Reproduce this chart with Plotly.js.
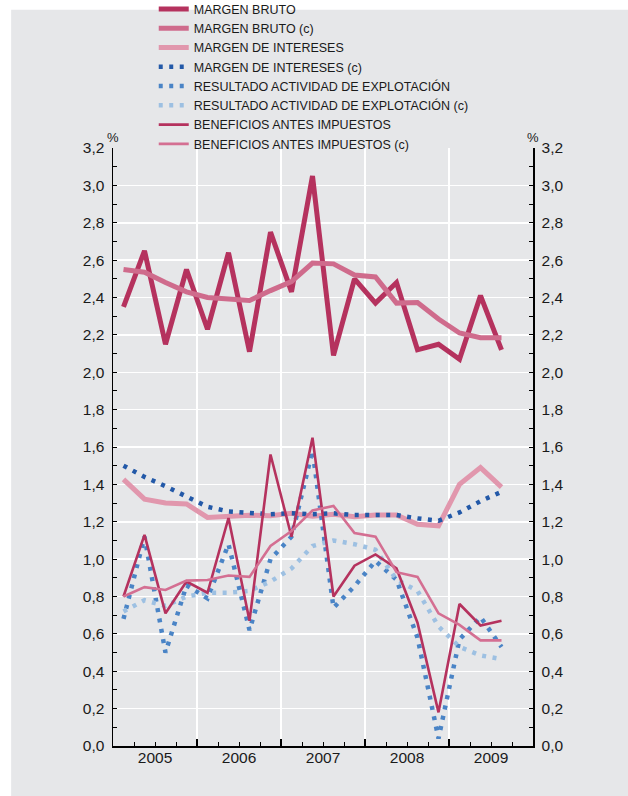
<!DOCTYPE html>
<html>
<head>
<meta charset="utf-8">
<script src="https://cdn.plot.ly/plotly-3.0.1.min.js"></script>
<style>html,body{margin:0;padding:0;background:#fff;}#chart{width:628px;height:796px;}</style>
</head>
<body>
<div id="chart"></div>
<script>
// ---- DATA ----
const years = [2005, 2006, 2007, 2008, 2009];
const yearLabels = ['2005', '2006', '2007', '2008', '2009'];
const periods = ['2005-1','2005-2','2005-3','2005-4','2006-1','2006-2','2006-3','2006-4',
                 '2007-1','2007-2','2007-3','2007-4','2008-1','2008-2','2008-3','2008-4',
                 '2009-1','2009-2','2009-3'];
const seriesNames = ['MARGEN BRUTO','MARGEN BRUTO (c)','MARGEN DE INTERESES','MARGEN DE INTERESES (c)',
  'RESULTADO ACTIVIDAD DE EXPLOTACIÓN','RESULTADO ACTIVIDAD DE EXPLOTACIÓN (c)',
  'BENEFICIOS ANTES IMPUESTOS','BENEFICIOS ANTES IMPUESTOS (c)'];
const margenBruto      = [2.35,2.65,2.15,2.55,2.23,2.64,2.11,2.75,2.43,3.05,2.09,2.50,2.37,2.48,2.12,2.15,2.07,2.41,2.12];
const margenBrutoC     = [2.55,2.535,2.48,2.43,2.40,2.393,2.384,2.437,2.485,2.584,2.58,2.52,2.51,2.37,2.373,2.285,2.21,2.185,2.185];
const margenIntereses  = [1.427,1.321,1.30,1.295,1.223,1.23,1.235,1.232,1.245,1.23,1.24,1.227,1.236,1.236,1.187,1.178,1.40,1.49,1.385];
const margenInteresesC = [1.50,1.44,1.39,1.335,1.28,1.255,1.245,1.24,1.245,1.24,1.245,1.236,1.236,1.236,1.218,1.205,1.25,1.31,1.36];
const resultado        = [0.68,1.12,0.50,0.86,0.79,1.08,0.62,1.00,1.12,1.58,0.74,0.855,0.99,0.89,0.58,0.04,0.57,0.69,0.53];
const resultadoC       = [0.72,0.78,0.75,0.80,0.82,0.82,0.83,0.88,0.95,1.07,1.10,1.08,1.05,0.89,0.83,0.64,0.53,0.485,0.465];
const beneficios       = [0.80,1.13,0.71,0.88,0.82,1.22,0.67,1.56,1.12,1.65,0.80,0.965,1.025,0.95,0.66,0.18,0.76,0.645,0.67];
const beneficiosC      = [0.80,0.85,0.835,0.885,0.888,0.912,0.905,1.07,1.15,1.26,1.285,1.14,1.12,0.93,0.905,0.71,0.648,0.565,0.565];

// ---- helpers ----
function qx(p){ const a = p.split('-').map(Number); return a[0] + (a[1] - 0.5) / 4; }
const xs = periods.map(qx);

const FONT = 'Liberation Sans, Arial, Helvetica, sans-serif';
const INK = '#1a1a1a';
const PANEL = '#e6e7e9';
const DOTS = '4px,6.5px';

const styles = [
  {color:'#b5325e', width:5,   dash:'solid'},
  {color:'#cf6b8c', width:5,   dash:'solid'},
  {color:'#e197ad', width:5,   dash:'solid'},
  {color:'#2359a8', width:4.5, dash:DOTS},
  {color:'#4a84c6', width:4.5, dash:DOTS},
  {color:'#9dc0e2', width:4.5, dash:DOTS},
  {color:'#b5325e', width:2.6, dash:'solid'},
  {color:'#d46f92', width:2.6, dash:'solid'}
];
const values = [margenBruto, margenBrutoC, margenIntereses, margenInteresesC, resultado, resultadoC, beneficios, beneficiosC];

const traces = values.map((v, i) => ({
  type: 'scatter', mode: 'lines', x: xs, y: v, name: seriesNames[i],
  line: {color: styles[i].color, width: styles[i].width, dash: styles[i].dash},
  yaxis: i === values.length - 1 ? 'y2' : 'y',
  hoverinfo: 'skip'
}));

// x ticks: every quarter boundary inside each year, year label at mid-year
const xTickVals = [], xTickText = [];
years.forEach((y, i) => {
  [0.25, 0.5, 0.75].forEach(f => { xTickVals.push(y + f); xTickText.push(f === 0.5 ? yearLabels[i] : ''); });
});
const yearBounds = years.slice(1);

const yCommon = {
  range: [0, 3.2], dtick: 0.2, tick0: 0, tickformat: '.1f',
  showgrid: true, gridcolor: '#ffffff', gridwidth: 1.5,
  zeroline: false, showline: true, linecolor: '#000', linewidth: 1.5,
  ticks: 'inside', ticklen: 4, tickwidth: 1, tickcolor: '#000',
  minor: {dtick: 0.1, ticks: 'inside', ticklen: 4, tickwidth: 1, tickcolor: '#000', showgrid: false},
  tickfont: {family: FONT, size: 15.5, color: INK},
  ticklabelstandoff: 4, fixedrange: true
};

const layout = {
  width: 628, height: 796,
  paper_bgcolor: '#ffffff', plot_bgcolor: PANEL,
  separators: ',.',
  margin: {l: 113, r: 95, t: 148, b: 50, pad: 0, autoexpand: false},
  font: {family: FONT, color: INK},
  showlegend: true,
  legend: {
    x: 0.097, xanchor: 'left', y: 1.2567, yanchor: 'top',
    bgcolor: 'rgba(0,0,0,0)', borderwidth: 0,
    font: {family: FONT, size: 12.5, color: INK},
    traceorder: 'normal', tracegroupgap: 0
  },
  xaxis: {
    range: [2005, 2010], tickmode: 'array', tickvals: xTickVals, ticktext: xTickText,
    showgrid: false, zeroline: false, showline: true, linecolor: '#000', linewidth: 2,
    ticks: 'inside', ticklen: 4, tickwidth: 1, tickcolor: '#000',
    minor: {tickmode: 'array', tickvals: yearBounds, ticks: 'inside', ticklen: 7, tickwidth: 1.2,
            tickcolor: '#000', showgrid: true, gridcolor: '#ffffff', gridwidth: 1.5},
    tickfont: {family: FONT, size: 15.5, color: INK}, ticklabelstandoff: -4, fixedrange: true
  },
  yaxis: Object.assign({}, yCommon, {side: 'left'}),
  yaxis2: Object.assign({}, yCommon, {side: 'right', overlaying: 'y', showgrid: false}),
  shapes: [{
    type: 'rect', xref: 'paper', yref: 'paper', layer: 'below',
    x0: -0.2425, x1: 1.23, y0: -0.09, y1: 1.231,
    fillcolor: PANEL, line: {width: 0}
  }],
  annotations: [
    {xref: 'paper', yref: 'paper', x: 0, y: 1.018, text: '%', showarrow: false,
     font: {family: FONT, size: 13, color: INK}, xanchor: 'center', yanchor: 'middle'},
    {xref: 'paper', yref: 'paper', x: 1, y: 1.018, text: '%', showarrow: false,
     font: {family: FONT, size: 13, color: INK}, xanchor: 'center', yanchor: 'middle'}
  ]
};

Plotly.newPlot('chart', traces, layout, {displayModeBar: false, staticPlot: true});
</script>
</body>
</html>
